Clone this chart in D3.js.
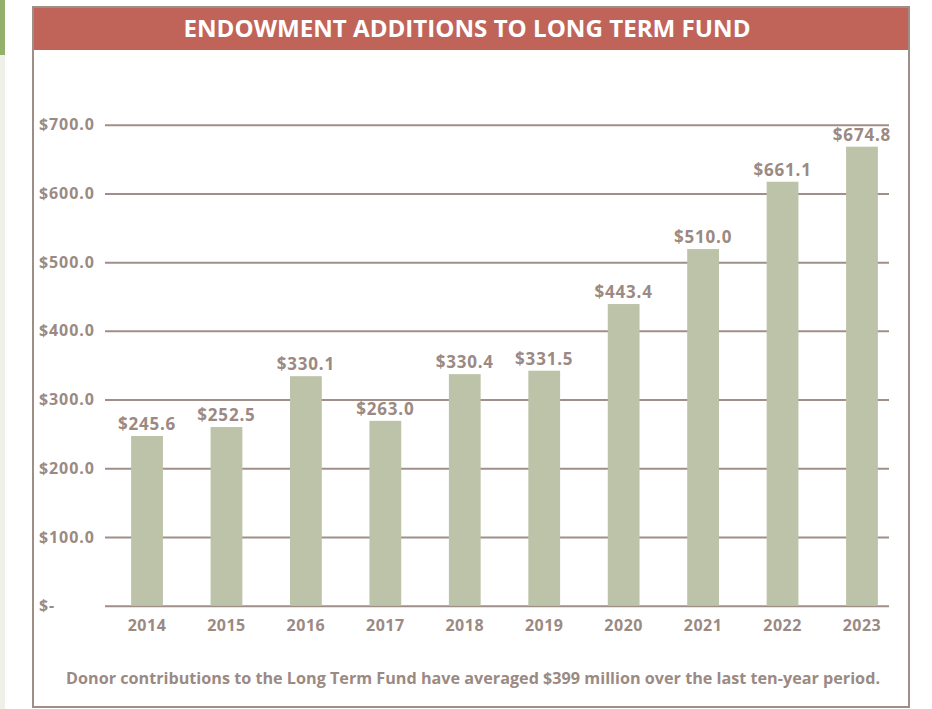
<!DOCTYPE html>
<html>
<head>
<meta charset="utf-8">
<script src="https://cdn.jsdelivr.net/npm/d3@7"></script>
<style>
  body { margin: 0; background: #fff; }
  svg { display: block; }
  text { font-family: "Open Sans", "DejaVu Sans", sans-serif; font-weight: 700; }
</style>
</head>
<body>
<div id="chart"></div>
<script>
// years on the x axis
var years = ["2014", "2015", "2016", "2017", "2018", "2019", "2020", "2021", "2022", "2023"];
// bar heights as drawn in the picture ($ millions)
var barValues = [247, 260, 334, 269, 337, 342, 439, 519, 617, 668];
// values printed above the bars ($ millions)
var printedValues = [245.6, 252.5, 330.1, 263.0, 330.4, 331.5, 443.4, 510.0, 661.1, 674.8];
// y axis ticks
var yTicks = [0, 100, 200, 300, 400, 500, 600, 700];

var title = "ENDOWMENT ADDITIONS TO LONG TERM FUND";
var note = "Donor contributions to the Long Term Fund have averaged $399 million over the last ten-year period.";

var width = 932, height = 709;
var textColor = "#9b8a83", lineColor = "#a08f88", barColor = "#bcc3a8";

var data = years.map((y, i) => ({year: y, value: barValues[i], label: printedValues[i]}));

var svg = d3.select("#chart").append("svg")
    .attr("width", width)
    .attr("height", height);

// page edge left over from the report layout
svg.append("rect").attr("x", 0).attr("y", 0).attr("width", 5).attr("height", height).attr("fill", "#eef0e9");
svg.append("rect").attr("x", 0).attr("y", 0).attr("width", 5).attr("height", 55).attr("fill", "#93b06c");

// frame + header band
svg.append("rect")
    .attr("x", 33).attr("y", 7)
    .attr("width", 876).attr("height", 700)
    .attr("fill", "#fff")
    .attr("stroke", "#9e8e86")
    .attr("stroke-width", 2);

svg.append("rect")
    .attr("x", 34).attr("y", 8)
    .attr("width", 874).attr("height", 42)
    .attr("fill", "#c0645a");

svg.append("text")
    .attr("x", 467).attr("y", 36.5)
    .attr("text-anchor", "middle")
    .attr("fill", "#fff")
    .style("font-size", "23px")
    .attr("textLength", 567)
    .attr("lengthAdjust", "spacingAndGlyphs")
    .text(title);

var x = d3.scaleBand()
    .domain(years)
    .range([107.3, 901.7])
    .paddingInner(0.6)
    .paddingOuter(0.3);

var y = d3.scaleLinear()
    .domain([0, 700])
    .range([605.7, 124.7]);

var gridLeft = 105, gridRight = 889;

var yAxis = svg.append("g")
    .attr("transform", `translate(${gridLeft},0)`)
    .call(d3.axisLeft(y)
        .tickValues(yTicks)
        .tickSize(-(gridRight - gridLeft))
        .tickFormat(d => d === 0 ? "$-" : "$" + d3.format(".1f")(d)));

yAxis.select(".domain").remove();
yAxis.selectAll(".tick line")
    .attr("stroke", lineColor)
    .attr("stroke-width", 2);
yAxis.selectAll(".tick text")
    .attr("x", 39 - gridLeft)
    .attr("text-anchor", "start")
    .attr("fill", textColor)
    .style("font-size", "16px")
    .style("letter-spacing", "0.9px");

svg.append("g")
  .selectAll("rect")
  .data(data)
  .join("rect")
    .attr("x", d => x(d.year))
    .attr("y", d => y(d.value))
    .attr("width", x.bandwidth())
    .attr("height", d => y(0) - y(d.value))
    .attr("fill", barColor);

svg.append("g")
  .selectAll("text")
  .data(data)
  .join("text")
    .attr("x", d => x(d.year) + x.bandwidth() / 2)
    .attr("y", d => y(d.value) - 6)
    .attr("text-anchor", "middle")
    .attr("fill", textColor)
    .style("font-size", "17px")
    .style("letter-spacing", "0.8px")
    .text(d => "$" + d3.format(".1f")(d.label));

svg.append("g")
    .attr("transform", "translate(0,631)")
  .selectAll("text")
  .data(years)
  .join("text")
    .attr("x", d => x(d) + x.bandwidth() / 2)
    .attr("text-anchor", "middle")
    .attr("fill", textColor)
    .style("font-size", "16px")
    .style("letter-spacing", "0.5px")
    .text(d => d);

svg.append("text")
    .attr("x", 66).attr("y", 683.5)
    .attr("fill", textColor)
    .style("font-size", "15.5px")
    .attr("textLength", 814)
    .attr("lengthAdjust", "spacingAndGlyphs")
    .text(note);
</script>
</body>
</html>
